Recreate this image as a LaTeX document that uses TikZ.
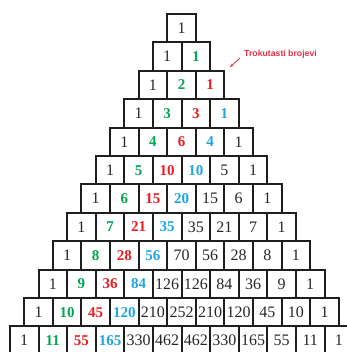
\documentclass[tikz,border=0pt]{standalone}
\usepackage{fontspec}
\setmainfont{Liberation Serif}
\newfontfamily\lblfont{Liberation Sans}
\usetikzlibrary{arrows.meta}
\definecolor{tgreen}{RGB}{0,166,81}
\definecolor{tred}{RGB}{237,28,36}
\definecolor{tblue}{RGB}{30,165,225}
\definecolor{tpink}{RGB}{232,45,70}
\definecolor{tline}{RGB}{30,30,30}
\tikzset{
  cell/.style={draw=tline, line width=2pt, minimum width=28.6pt, minimum height=28.4pt,
    inner sep=0pt, font=\fontsize{16}{16}\selectfont, text=black!85},
  c0/.style={}, c1/.style={text=tgreen, font=\fontsize{15}{15}\selectfont\bfseries},
  c2/.style={text=tred, font=\fontsize{15}{15}\selectfont\bfseries},
  c3/.style={text=tblue, font=\fontsize{15}{15}\selectfont\bfseries},
  c4/.style={}, c5/.style={}, c6/.style={}, c7/.style={}, c8/.style={}, c9/.style={},
  c10/.style={}, c11/.style={},
  lbl/.style={text=tpink, font=\lblfont\fontsize{8.7}{9}\selectfont\bfseries, inner sep=0pt},
  pointer/.style={draw=tpink, line width=0.8pt, -{Stealth[length=3.5pt,width=3pt]}}
}
\begin{document}
\begin{tikzpicture}[x=1pt,y=1pt]
\path[use as bounding box] (0,0) rectangle (346,352);
\foreach \row [count=\r from 0] in {{1},{1,1},{1,2,1},{1,3,3,1},{1,4,6,4,1},{1,5,10,10,5,1},
  {1,6,15,20,15,6,1},{1,7,21,35,35,21,7,1},{1,8,28,56,70,56,28,8,1},
  {1,9,36,84,126,126,84,36,9,1},{1,10,45,120,210,252,210,120,45,10,1},
  {1,11,55,165,330,462,462,330,165,55,11,1}} {
  \foreach \v [count=\i from 0] in \row {
    \node[cell, c\i] (b-\r-\i) at ({181.5-(\r+1)*14.3+\i*28.6+14.3}, {352-(14+\r*28.4+14.2)}) {\v};
  }
}
\node[lbl] (label) at (280.5,298) {Trokutasti brojevi};
\coordinate (tail) at (240,294);
\coordinate (tip) at (230,285);
\draw[pointer] (tail) -- (tip);
\end{tikzpicture}
\end{document}
